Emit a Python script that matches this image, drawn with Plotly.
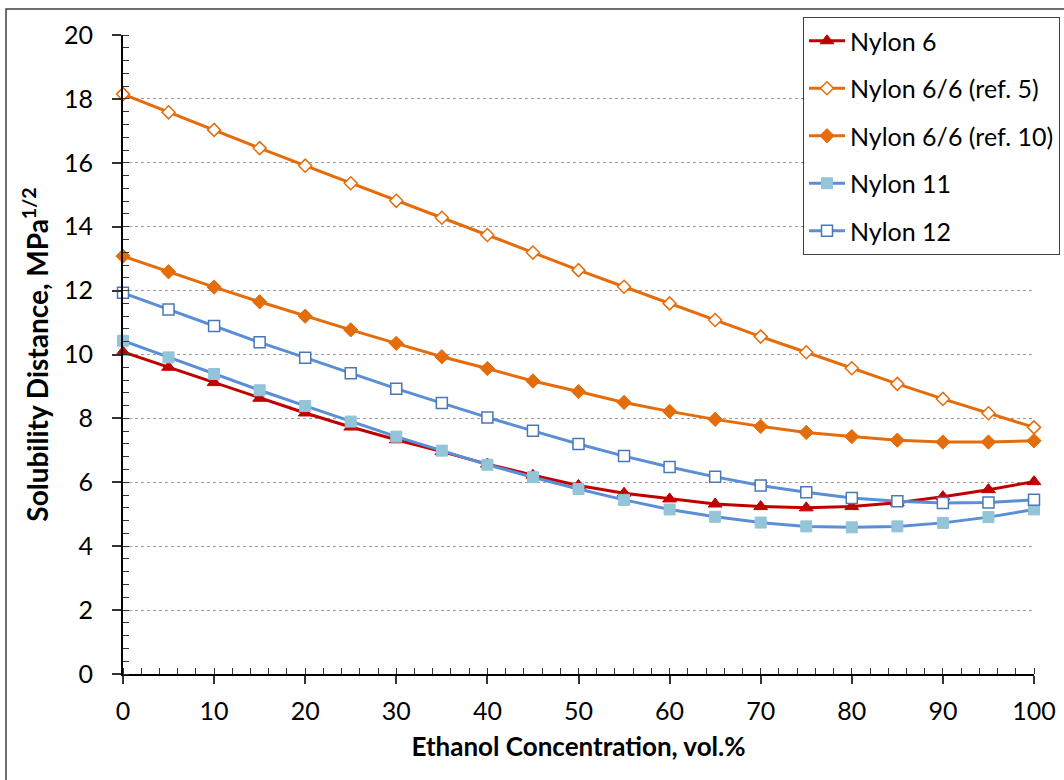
import plotly.graph_objects as go

ethanol = [0, 5, 10, 15, 20, 25, 30, 35, 40, 45, 50, 55, 60, 65, 70, 75, 80, 85, 90, 95, 100]

nylon6 = [10.08, 9.60, 9.12, 8.63, 8.17, 7.73, 7.33, 6.96, 6.57, 6.22, 5.90, 5.66, 5.48, 5.32, 5.24, 5.20, 5.24, 5.36, 5.55, 5.77, 6.02]
nylon66_ref5 = [18.15, 17.58, 17.03, 16.46, 15.91, 15.36, 14.81, 14.28, 13.74, 13.19, 12.64, 12.12, 11.60, 11.08, 10.56, 10.07, 9.57, 9.08, 8.61, 8.16, 7.72]
nylon66_ref10 = [13.08, 12.59, 12.11, 11.65, 11.20, 10.77, 10.35, 9.93, 9.56, 9.17, 8.84, 8.50, 8.22, 7.97, 7.75, 7.56, 7.43, 7.32, 7.26, 7.26, 7.30]
nylon11 = [10.43, 9.91, 9.39, 8.88, 8.39, 7.90, 7.43, 6.99, 6.55, 6.16, 5.79, 5.45, 5.15, 4.92, 4.74, 4.62, 4.59, 4.62, 4.73, 4.91, 5.15]
nylon12 = [11.93, 11.41, 10.89, 10.38, 9.90, 9.41, 8.93, 8.48, 8.03, 7.61, 7.20, 6.82, 6.48, 6.17, 5.90, 5.69, 5.51, 5.41, 5.35, 5.37, 5.45]

names = ["Nylon 6", "Nylon 6/6 (ref. 5)", "Nylon 6/6 (ref. 10)", "Nylon 11", "Nylon 12"]

FONT = "Lato, 'Open Sans', sans-serif"
RED = "#C00000"
ORANGE = "#E46C0A"
BLUE = "#5A8ED6"
LIGHTBLUE = "#93C4D8"
DARKBLUE = "#4A78B4"

series = [
    (nylon6, RED, dict(symbol="triangle-up", size=12, color=RED, line=dict(color=RED, width=1))),
    (nylon66_ref5, ORANGE, dict(symbol="diamond", size=10, color="white", line=dict(color=ORANGE, width=1.5))),
    (nylon66_ref10, ORANGE, dict(symbol="diamond", size=11, color=ORANGE, line=dict(color=ORANGE, width=1))),
    (nylon11, BLUE, dict(symbol="square", size=11, color=LIGHTBLUE, line=dict(color=LIGHTBLUE, width=1))),
    (nylon12, BLUE, dict(symbol="square", size=11, color="white", line=dict(color=DARKBLUE, width=1.5))),
]

fig = go.Figure()
for name, (vals, lc, mk) in zip(names, series):
    fig.add_trace(go.Scatter(
        x=ethanol, y=vals, name=name, mode="lines+markers",
        line=dict(color=lc, width=3), marker=mk, cliponaxis=False,
        legendgroup=name,
    ))

fig.update_layout(
    width=1064, height=780,
    margin=dict(l=123, r=30, t=35, b=106, autoexpand=False),
    paper_bgcolor="white", plot_bgcolor="white",
    font=dict(family=FONT, size=25, color="black"),
    showlegend=True,
    legend=dict(
        x=(803 - 123) / 911, y=(674 - 17) / 639, xanchor="left", yanchor="top",
        bgcolor="white", bordercolor="#404040", borderwidth=1,
        font=dict(family=FONT, size=25, color="black"),
        tracegroupgap=12, itemwidth=36,
    ),
)

fig.update_xaxes(
    range=[0, 100], tickvals=list(range(0, 101, 10)),
    showline=True, linecolor="black", linewidth=2,
    ticks="outside", ticklen=8, tickwidth=1.5, tickcolor="#333333",
    minor=dict(dtick=2, ticks="inside", ticklen=6, tickwidth=1.2, tickcolor="#333333", showgrid=False),
    showgrid=False, zeroline=False,
    tickfont=dict(family=FONT, size=25, color="black"),
    ticklabelstandoff=6,
    title=dict(text="<b>Ethanol Concentration, vol.%</b>", font=dict(family=FONT, size=26, color="black"), standoff=14),
    automargin=False,
)
fig.update_yaxes(
    range=[0, 20], tickvals=list(range(0, 21, 2)),
    showline=True, linecolor="black", linewidth=2,
    ticks="outside", ticklen=9, tickwidth=1.5, tickcolor="#333333",
    minor=dict(dtick=0.4, ticks="inside", ticklen=6, tickwidth=1.2, tickcolor="#333333", showgrid=False),
    showgrid=True, gridcolor="#9A9A9A", gridwidth=1, griddash="dot",
    zeroline=False,
    tickfont=dict(family=FONT, size=25, color="black"),
    ticklabelstandoff=14,
    title=dict(text="<b>Solubility Distance, MPa<sup>1/2</sup></b>", font=dict(family=FONT, size=28, color="black"), standoff=7),
    automargin=False,
)

# outer chart border
fig.add_shape(type="rect", xref="paper", yref="paper",
              x0=(6 - 123) / 911, x1=(1075 - 123) / 911,
              y0=(674 - 790) / 639, y1=(674 - 9) / 639,
              line=dict(color="#404040", width=1.5), fillcolor="rgba(0,0,0,0)", layer="below")

fig.write_html("out.html", config={"displayModeBar": False},
               post_script="document.body.style.margin='0px';")
